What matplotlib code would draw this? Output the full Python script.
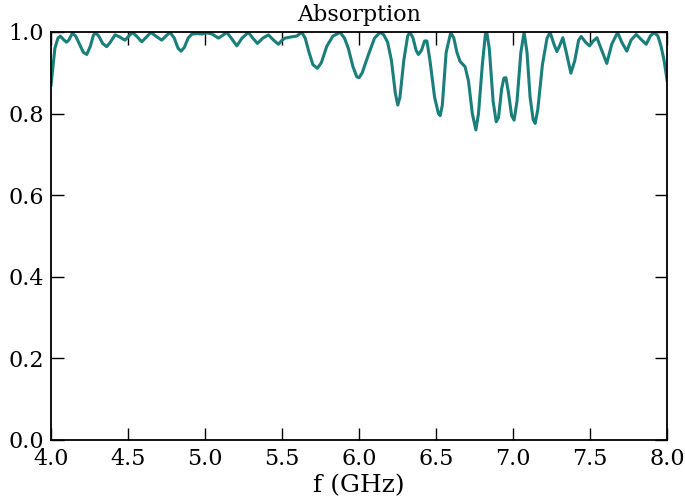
"""Absorption spectrum, 4-8 GHz."""

import matplotlib
matplotlib.use("Agg")
import matplotlib.pyplot as plt

plt.rcParams.update({
    "font.family": "DejaVu Serif",
    "font.size": 16,
    "xtick.direction": "in",
    "ytick.direction": "in",
    "xtick.top": True,
    "ytick.right": True,
})

freq = [
    4.000, 4.010, 4.025, 4.045, 4.060, 4.080, 4.100, 4.115, 4.138, 4.160,
    4.185, 4.210, 4.232, 4.255, 4.275, 4.290, 4.310, 4.335, 4.361, 4.385,
    4.416, 4.445, 4.480, 4.505, 4.528, 4.555, 4.589, 4.620, 4.649, 4.680,
    4.719, 4.745, 4.773, 4.800, 4.825, 4.844, 4.865, 4.890, 4.915, 4.950,
    4.980, 5.010, 5.045, 5.087, 5.115, 5.141, 5.170, 5.206, 5.240, 5.281,
    5.310, 5.340, 5.375, 5.411, 5.445, 5.476, 5.500, 5.519, 5.560, 5.595,
    5.628, 5.650, 5.675, 5.700, 5.729, 5.755, 5.790, 5.830, 5.877, 5.905,
    5.930, 5.960, 5.985, 6.000, 6.020, 6.060, 6.100, 6.136, 6.160, 6.185,
    6.210, 6.235, 6.251, 6.265, 6.290, 6.315, 6.331, 6.350, 6.370, 6.385,
    6.405, 6.425, 6.440, 6.460, 6.490, 6.515, 6.526, 6.540, 6.565, 6.595,
    6.615, 6.635, 6.655, 6.688, 6.710, 6.735, 6.758, 6.775, 6.800, 6.820,
    6.829, 6.845, 6.870, 6.890, 6.905, 6.925, 6.940, 6.953, 6.970, 6.990,
    7.006, 7.025, 7.050, 7.071, 7.090, 7.110, 7.130, 7.143, 7.160, 7.190,
    7.220, 7.240, 7.265, 7.284, 7.300, 7.323, 7.345, 7.375, 7.400, 7.425,
    7.442, 7.470, 7.496, 7.520, 7.544, 7.570, 7.608, 7.640, 7.678, 7.705,
    7.738, 7.765, 7.799, 7.830, 7.864, 7.890, 7.916, 7.940, 7.960, 7.980,
    8.000,
]
absorption = [
    0.870, 0.905, 0.960, 0.985, 0.990, 0.982, 0.975, 0.980, 0.997, 0.990,
    0.970, 0.950, 0.945, 0.965, 0.992, 0.998, 0.990, 0.972, 0.964, 0.975,
    0.993, 0.988, 0.980, 0.990, 0.999, 0.990, 0.976, 0.988, 0.999, 0.990,
    0.980, 0.990, 0.999, 0.985, 0.960, 0.953, 0.962, 0.985, 0.995, 0.996,
    0.995, 0.998, 0.995, 0.985, 0.992, 0.999, 0.985, 0.966, 0.985, 0.999,
    0.985, 0.972, 0.985, 0.993, 0.980, 0.970, 0.980, 0.985, 0.988, 0.990,
    0.999, 0.985, 0.950, 0.920, 0.911, 0.925, 0.965, 0.990, 0.999, 0.985,
    0.960, 0.915, 0.890, 0.888, 0.900, 0.944, 0.985, 0.999, 0.993, 0.975,
    0.930, 0.850, 0.821, 0.840, 0.930, 0.990, 0.999, 0.985, 0.955, 0.945,
    0.955, 0.978, 0.978, 0.930, 0.840, 0.800, 0.795, 0.820, 0.950, 0.999,
    0.985, 0.950, 0.928, 0.915, 0.880, 0.800, 0.760, 0.800, 0.920, 0.995,
    0.999, 0.960, 0.830, 0.780, 0.790, 0.860, 0.887, 0.888, 0.850, 0.795,
    0.784, 0.830, 0.950, 0.999, 0.950, 0.840, 0.785, 0.776, 0.810, 0.920,
    0.985, 0.999, 0.970, 0.952, 0.965, 0.986, 0.950, 0.899, 0.930, 0.980,
    0.989, 0.975, 0.966, 0.978, 0.986, 0.960, 0.923, 0.970, 0.999, 0.975,
    0.953, 0.980, 0.994, 0.982, 0.970, 0.990, 0.999, 0.990, 0.965, 0.930,
    0.880,
]

fig = plt.figure(figsize=(6.85, 5.0), dpi=100)
ax = fig.add_axes([0.0745, 0.12, 0.8995, 0.816])

ax.plot(freq, absorption, color="#1a7e7a", lw=2.2)

ax.set_xlim(4.0, 8.0)
ax.set_ylim(0.0, 1.0)
ax.set_xticks([4.0, 4.5, 5.0, 5.5, 6.0, 6.5, 7.0, 7.5, 8.0])
ax.set_yticks([0.0, 0.2, 0.4, 0.6, 0.8, 1.0])
ax.tick_params(length=9, width=1, pad=5)
ax.tick_params(axis="x", pad=6)
for s in ax.spines.values():
    s.set_linewidth(1.3)
ax.set_xlabel("f (GHz)", fontsize=18, labelpad=3)
ax.set_title("Absorption", fontsize=16, pad=8)

fig.savefig("out.png")
plt.close(fig)
